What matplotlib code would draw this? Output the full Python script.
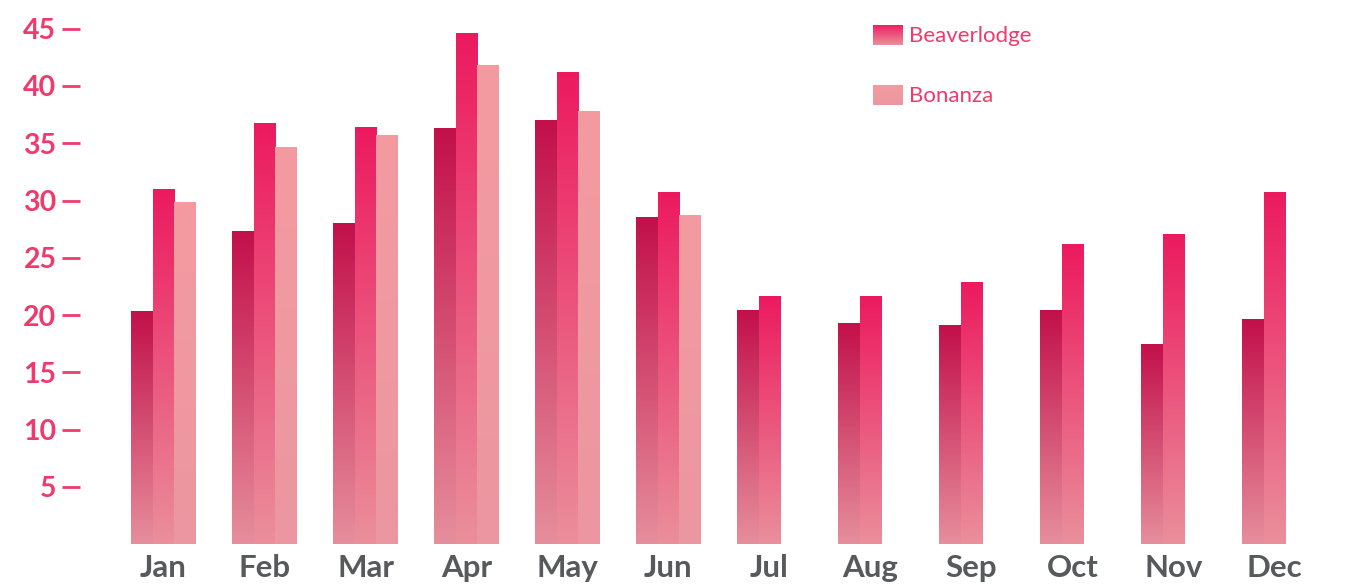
import numpy as np
import matplotlib
matplotlib.use("Agg")
import matplotlib.pyplot as plt
from matplotlib.colors import LinearSegmentedColormap

# ---------------------------------------------------------------------------
# data
# ---------------------------------------------------------------------------
months = ["Jan", "Feb", "Mar", "Apr", "May", "Jun",
          "Jul", "Aug", "Sep", "Oct", "Nov", "Dec"]
unnamed = [20.3, 27.3, 28.0, 36.3, 37.0, 28.5, 20.35, 19.3, 19.05, 20.35, 17.4, 19.65]
beaverlodge = [31.0, 36.75, 36.4, 44.6, 41.2, 30.7, 21.6, 21.6, 22.8, 26.2, 27.0, 30.7]
bonanza = [29.85, 34.65, 35.7, 41.8, 37.8, 28.7,
           np.nan, np.nan, np.nan, np.nan, np.nan, np.nan]
yticks = [5, 10, 15, 20, 25, 30, 35, 40, 45]

# (top colour, bottom colour) for each series
GRAD_UNNAMED = ("#c2104b", "#e68e9c")
GRAD_BEAVER = ("#ec1a5f", "#ea8f9b")
GRAD_BONANZA = ("#f49ba0", "#eb96a0")
PINK_TEXT = "#ef3a6b"
GREY_TEXT = "#58595b"


def paint_gradient(ax, x0, y0, w, h, top, bottom, zorder=2):
    cmap = LinearSegmentedColormap.from_list("g", [bottom, top])
    grad = np.linspace(0, 1, 256).reshape(-1, 1)
    ax.imshow(grad, extent=[x0, x0 + w, y0, y0 + h], origin="lower",
              cmap=cmap, aspect="auto", zorder=zorder, interpolation="bilinear")


def gradient_bars(ax, bars, top, bottom):
    for p in bars.patches:
        h = p.get_height()
        if not np.isfinite(h):
            continue
        paint_gradient(ax, p.get_x(), p.get_y(), p.get_width(), h, top, bottom)


fig = plt.figure(figsize=(13.49, 5.84), dpi=100)
W, H = 1349, 584
ax = fig.add_axes([80 / W, (H - 544) / H, (W - 80) / W, 544 / H])

x = np.arange(len(months))
bw = 0.215
b1 = ax.bar(x - bw, unnamed, bw, color="none", linewidth=0)
b2 = ax.bar(x, beaverlodge, bw, color="none", linewidth=0)
b3 = ax.bar(x + bw, bonanza, bw, color="none", linewidth=0)
gradient_bars(ax, b1, *GRAD_UNNAMED)
gradient_bars(ax, b2, *GRAD_BEAVER)
gradient_bars(ax, b3, *GRAD_BONANZA)

pitch = 101.0
ax.set_xlim(-(163.5 - 80) / pitch, (W - 163.5) / pitch)
ax.set_ylim(0, 544 / 11.45)

for s in ax.spines.values():
    s.set_visible(False)

ax.set_yticks(yticks)
ax.set_yticklabels([str(v) for v in yticks])
ax.tick_params(axis="y", direction="out", length=13, width=2.0, color=PINK_TEXT,
               pad=4, labelcolor=PINK_TEXT, labelsize=20.5)
for t in ax.get_yticklabels():
    t.set_fontfamily("Lato")
    t.set_fontweight("bold")

ax.set_xticks(x)
ax.set_xticklabels(months)
ax.tick_params(axis="x", length=0, pad=7, labelcolor=GREY_TEXT, labelsize=22.5)
for t in ax.get_xticklabels():
    t.set_fontfamily("Lato")
    t.set_fontweight("bold")

# legend, drawn by hand so the swatch can carry the gradient
legend_items = [("Beaverlodge", GRAD_BEAVER, 0.9173, 0.934),
                ("Bonanza", GRAD_BONANZA, 0.807, 0.8235)]
for name, (top, bottom), y_sw, y_txt in legend_items:
    sw = ax.inset_axes([0.6249, y_sw, 0.0229, 0.0368])
    sw.axis("off")
    paint_gradient(sw, 0, 0, 1, 1, top, bottom)
    sw.set_xlim(0, 1)
    sw.set_ylim(0, 1)
    ax.text(0.6535, y_txt, name, transform=ax.transAxes, ha="left", va="center",
            fontsize=16, color=PINK_TEXT, fontfamily="Lato", fontweight="normal")

fig.savefig("out.png", dpi=100)
